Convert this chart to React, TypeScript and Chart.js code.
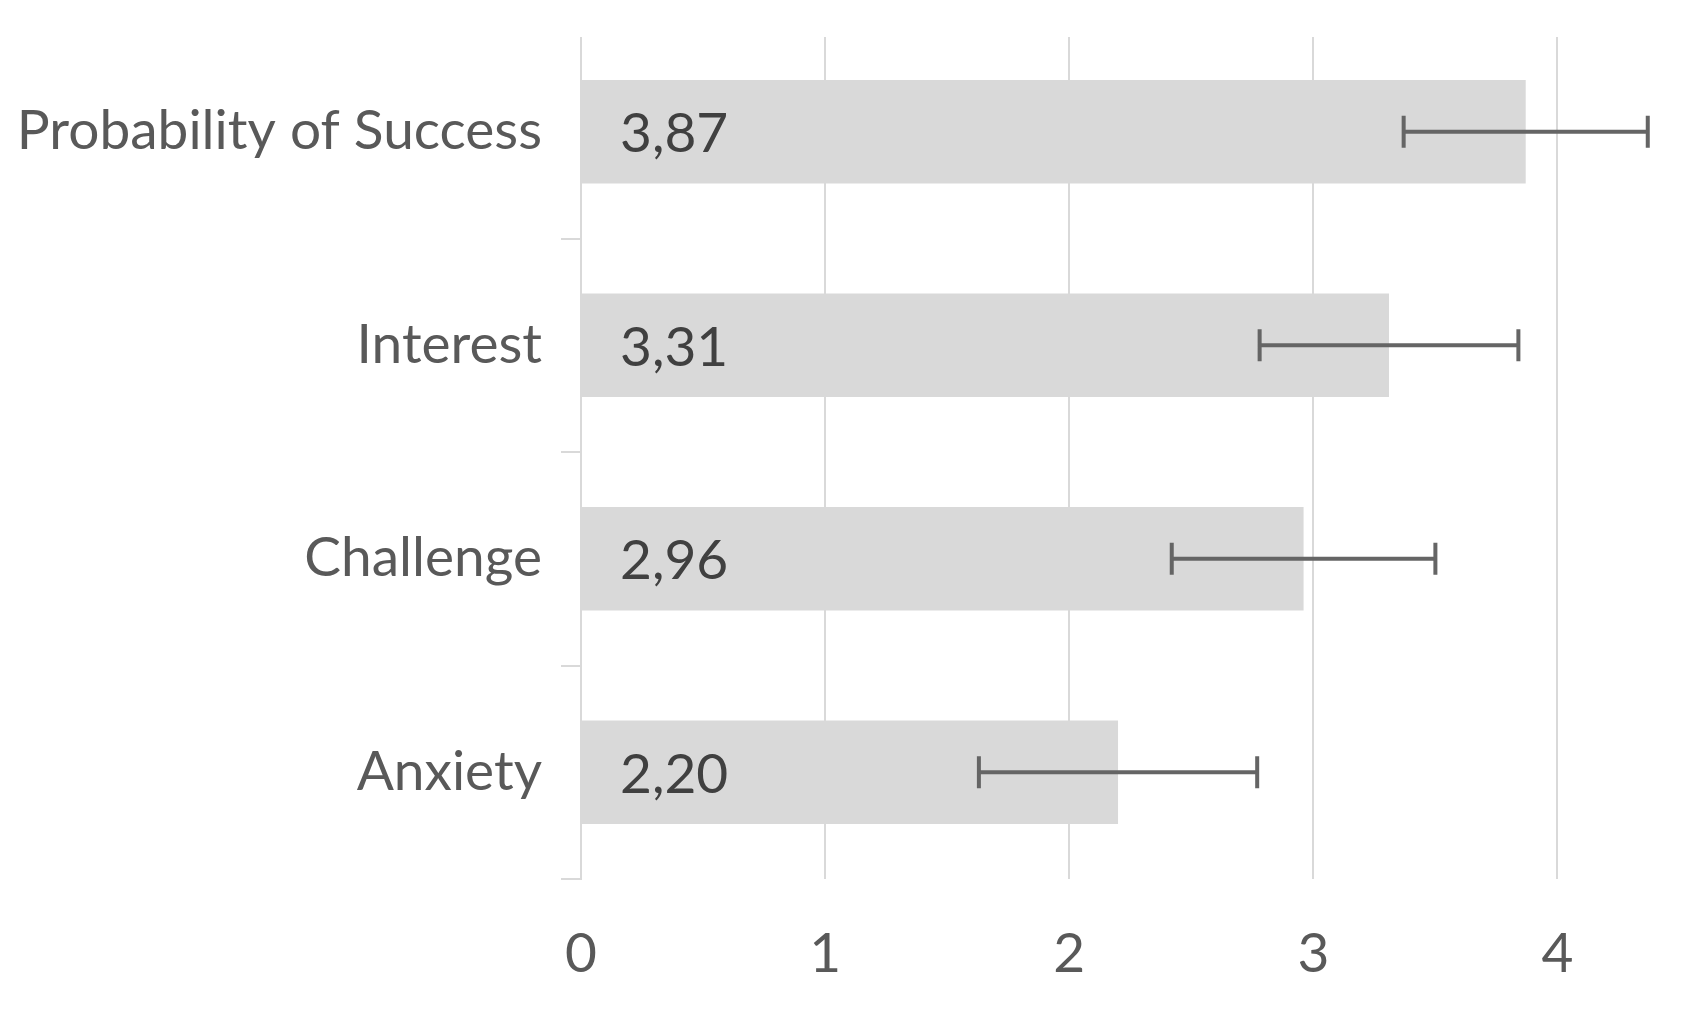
import React, { useEffect, useRef } from 'react';
import { Chart, registerables } from 'chart.js';

Chart.register(...registerables);

const categories = ['Probability of Success', 'Interest', 'Challenge', 'Anxiety'];
const means = [3.87, 3.31, 2.96, 2.2];
const errors = [0.5, 0.53, 0.54, 0.57];
const xTickValues = [0, 1, 2, 3, 4];
const xMin = 0;
const xMax = 4.5;

const FONT = "Lato, 'Open Sans', sans-serif";
const FONT_SIZE = 55;
const GRID = '#d9d9d9';
const TEXT = '#595959';

const coverTop = {
  id: 'coverTop',
  beforeDatasetsDraw(chart: any) {
    const { ctx, chartArea } = chart;
    ctx.save();
    ctx.fillStyle = '#ffffff';
    ctx.fillRect(chartArea.left - 30, 0, chartArea.width + 40, 37);
    ctx.restore();
  },
};

const errorBars = {
  id: 'errorBars',
  afterDatasetsDraw(chart: any) {
    const { ctx } = chart;
    const xs = chart.scales.x;
    const meta = chart.getDatasetMeta(0);
    ctx.save();
    ctx.strokeStyle = '#656565';
    ctx.lineWidth = 4;
    ctx.lineCap = 'butt';
    meta.data.forEach((el: any, i: number) => {
      const y = el.y;
      const xl = xs.getPixelForValue(means[i] - errors[i]);
      const xr = xs.getPixelForValue(means[i] + errors[i]);
      const h = 16;
      ctx.beginPath();
      ctx.moveTo(xl, y);
      ctx.lineTo(xr, y);
      ctx.moveTo(xl, y - h);
      ctx.lineTo(xl, y + h);
      ctx.moveTo(xr, y - h);
      ctx.lineTo(xr, y + h);
      ctx.stroke();
    });
    ctx.restore();
  },
};

const dataLabels = {
  id: 'dataLabels',
  afterDatasetsDraw(chart: any) {
    const { ctx } = chart;
    const meta = chart.getDatasetMeta(0);
    ctx.save();
    ctx.font = `${FONT_SIZE}px ${FONT}`;
    ctx.fillStyle = '#404040';
    ctx.textAlign = 'left';
    ctx.textBaseline = 'middle';
    meta.data.forEach((el: any, i: number) => {
      const txt = means[i].toFixed(2).replace('.', ',');
      ctx.fillText(txt, el.base + 38, el.y + 3);
    });
    ctx.restore();
  },
};

export default function App() {
  const ref = useRef<HTMLCanvasElement>(null);

  useEffect(() => {
    document.body.style.margin = '0';
    const canvas = ref.current;
    if (!canvas) return;
    const chart = new Chart(canvas, {
      type: 'bar',
      data: {
        labels: categories,
        datasets: [
          {
            data: means,
            backgroundColor: GRID,
            borderWidth: 0,
            barPercentage: 0.485,
            categoryPercentage: 1,
          },
        ],
      },
      options: {
        indexAxis: 'y',
        animation: false,
        responsive: false,
        devicePixelRatio: 1,
        layout: { padding: { top: 25, bottom: 0, left: 0, right: 2.5 } },
        plugins: {
          legend: { display: false },
          tooltip: { enabled: false },
          title: { display: false },
        },
        scales: {
          x: {
            type: 'linear',
            min: xMin,
            max: xMax,
            afterBuildTicks: (s: any) => {
              s.ticks = xTickValues.map((v) => ({ value: v }));
            },
            afterFit: (s: any) => {
              s.height = 141;
              s.paddingLeft = 0;
              s.paddingRight = 0;
              s.paddingTop = 0;
              s.paddingBottom = 0;
            },
            grid: {
              color: GRID,
              lineWidth: 2,
              drawTicks: false,
            },
            border: { display: false },
            ticks: {
              padding: 42,
              color: TEXT,
              font: { family: FONT, size: FONT_SIZE },
              callback: (v: any) => String(v),
            },
          },
          y: {
            type: 'category',
            offset: true,
            afterFit: (s: any) => {
              s.width = 581;
              s.paddingLeft = 0;
              s.paddingRight = 0;
              s.paddingTop = 0;
              s.paddingBottom = 0;
            },
            grid: {
              color: GRID,
              lineWidth: 2,
              drawOnChartArea: false,
              drawTicks: true,
              tickLength: 20,
              offset: true,
            },
            border: { display: true, color: GRID, width: 2 },
            ticks: {
              padding: 19,
              color: TEXT,
              font: { family: FONT, size: FONT_SIZE },
            },
          },
        },
      },
      plugins: [coverTop, dataLabels, errorBars],
    });
    return () => chart.destroy();
  }, []);

  return (
    <div style={{ width: 1682, height: 1020, background: '#fff' }}>
      <canvas ref={ref} width={1682} height={1020} style={{ display: 'block' }} />
    </div>
  );
}
